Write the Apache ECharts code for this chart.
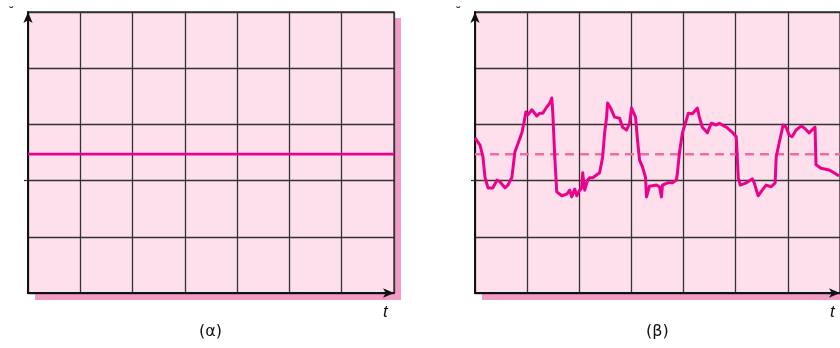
<!DOCTYPE html>
<html><head><meta charset="utf-8">
<script src="https://cdn.jsdelivr.net/npm/echarts@6/dist/echarts.min.js"></script>
<style>html,body{margin:0;padding:0;background:#fff}#c{width:840px;height:348px}</style>
</head><body><div id="c"></div>
<script>
const panelLabels = ['(α)', '(β)'];
const axisName = 't';
const meanValue = 2.47;
const tA = [0, 0.096, 0.153, 0.191, 0.249, 0.344, 0.421, 0.478, 0.574, 0.631, 0.708, 0.765, 0.899, 0.937, 0.975, 1.014, 1.09, 1.186, 1.243, 1.30, 1.377, 1.434, 1.473, 1.492, 1.53, 1.568, 1.664, 1.759, 1.817, 1.855, 1.912, 1.951, 2.008, 2.046, 2.065, 2.104, 2.161, 2.199, 2.257, 2.295, 2.39, 2.448, 2.486, 2.524, 2.543, 2.601, 2.62, 2.677, 2.773, 2.83, 2.907, 2.964, 3.002, 3.079, 3.117, 3.155, 3.213, 3.27, 3.289, 3.347, 3.481, 3.538, 3.576, 3.595, 3.691, 3.787, 3.863, 3.882, 3.92, 3.978, 4.054, 4.092, 4.169, 4.265, 4.303, 4.36, 4.456, 4.532, 4.628, 4.685, 4.781, 4.838, 4.934, 5.01, 5.049, 5.087, 5.202, 5.317, 5.355, 5.431, 5.508, 5.584, 5.68, 5.756, 5.776, 5.833, 5.909, 5.967, 6.024, 6.081, 6.158, 6.254, 6.311, 6.407, 6.521, 6.54, 6.636, 6.789, 6.885, 6.98];
const vA = [2.76, 2.63, 2.42, 2.06, 1.87, 1.87, 2.01, 1.98, 1.87, 1.92, 2.06, 2.51, 2.85, 3.02, 3.22, 3.17, 3.26, 3.15, 3.20, 3.20, 3.31, 3.38, 3.47, 3.20, 2.42, 1.80, 1.73, 1.76, 1.83, 1.71, 1.85, 1.73, 1.83, 1.87, 2.14, 1.83, 2.01, 2.05, 2.05, 2.06, 2.14, 2.42, 2.85, 3.13, 3.38, 3.29, 3.31, 3.13, 3.11, 2.95, 2.90, 3.02, 3.29, 3.13, 2.72, 2.37, 2.24, 2.06, 1.71, 1.90, 1.92, 1.89, 1.71, 1.92, 1.96, 1.96, 2.01, 2.14, 2.49, 2.85, 3.08, 3.20, 3.19, 3.29, 3.13, 2.95, 2.85, 3.02, 2.99, 3.02, 2.97, 2.94, 2.86, 2.78, 2.05, 1.92, 1.96, 2.03, 1.96, 1.73, 1.83, 1.92, 1.89, 1.96, 2.42, 2.67, 2.99, 2.95, 2.81, 2.78, 2.90, 2.97, 2.94, 2.85, 2.95, 2.28, 2.22, 2.19, 2.14, 2.08];
const tickValues = [2];

const gridBox = [{left: 28, top: 12, width: 366, height: 281}, {left: 475, top: 12, width: 366, height: 281}];
const bg = '#fde0ec', shadow = '#f29bc4', magenta = '#ec008c', dashCol = '#f06aa8', gridCol = '#333';

function xAx(i) {
  return {type: 'value', gridIndex: i, min: 0, max: 7, interval: 1,
    axisLine: {show: true, lineStyle: {color: '#111', width: 2}, symbol: ['none', 'arrow'], symbolSize: [7, 11]},
    axisTick: {show: false}, axisLabel: {show: false},
    splitLine: {show: true, lineStyle: {color: gridCol, width: 1.3}}};
}
function yAx(i) {
  return {type: 'value', gridIndex: i, min: 0, max: 5, interval: 1,
    axisLine: {show: true, lineStyle: {color: '#111', width: 2}, symbol: ['none', 'arrow'], symbolSize: [7, 11]},
    axisTick: {show: false}, axisLabel: {show: false},
    splitLine: {show: true, lineStyle: {color: gridCol, width: 1.3}}};
}
function yTickAx(i) {
  return {type: 'value', gridIndex: i, min: 0, max: 5, position: 'left',
    axisLine: {show: false},
    axisTick: {show: true, customValues: tickValues, length: 4, lineStyle: {color: gridCol, width: 1.3}},
    axisLabel: {show: false}, splitLine: {show: false}};
}

const graphic = [];
gridBox.forEach((g, i) => {
  graphic.push({type: 'rect', z: -10, shape: {x: g.left + 7, y: g.top + 6, width: g.width, height: g.height + 1}, style: {fill: shadow}});
  graphic.push({type: 'text', left: g.left + 355, top: 304, style: {text: axisName, font: 'italic 17px "Liberation Sans", sans-serif', fill: '#111'}});
  graphic.push({type: 'text', left: g.left + 171, top: 324, style: {text: panelLabels[i], font: '16px "DejaVu Sans", sans-serif', fill: '#111'}});
  graphic.push({type: 'text', left: g.left - 20, top: 6, style: {text: '˘', font: '13px "DejaVu Sans", sans-serif', fill: '#333'}});
});

const chart = echarts.init(document.getElementById('c'), null, {renderer: 'canvas'});
chart.setOption({
  animation: false,
  grid: gridBox.map(g => Object.assign({show: true, backgroundColor: bg, borderColor: gridCol, borderWidth: 1.3, containLabel: false}, g)),
  xAxis: [xAx(0), xAx(1)],
  yAxis: [yAx(0), yAx(1), yTickAx(0), yTickAx(1)],
  graphic: graphic,
  series: [
    {type: 'line', xAxisIndex: 0, yAxisIndex: 0, data: [[0, meanValue], [7, meanValue]], symbol: 'none', lineStyle: {color: magenta, width: 2.8}, z: 5},
    {type: 'line', xAxisIndex: 1, yAxisIndex: 1, data: [[0, meanValue], [7, meanValue]], symbol: 'none', lineStyle: {color: dashCol, width: 2.5, type: [9, 6]}, z: 4},
    {type: 'line', xAxisIndex: 1, yAxisIndex: 1, data: tA.map((t, k) => [t, vA[k]]), symbol: 'none', lineStyle: {color: magenta, width: 3, join: 'round'}, z: 5}
  ]
});
</script></body></html>
